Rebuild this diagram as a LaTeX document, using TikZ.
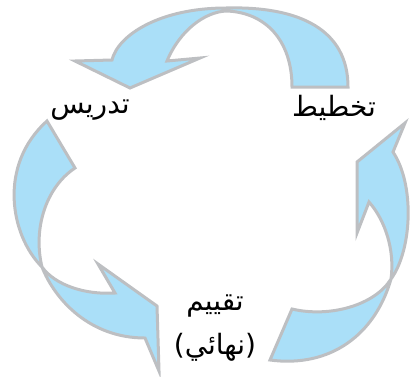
\documentclass[tikz,border=0pt]{standalone}
\usepackage{fontspec}
\newfontfamily\arabicfont[Script=Arabic]{DejaVu Sans}
\TeXXeTstate=1
\definecolor{ribbonfill}{RGB}{170,223,248}
\definecolor{ribbonline}{RGB}{189,191,194}
\tikzset{
  ribbon/.style={fill=ribbonfill, draw=ribbonline, line width=3pt, line join=miter},
  lbl/.style={font=\arabicfont\fontsize{28}{32}\selectfont, inner sep=0pt}
}
\begin{document}
\begin{tikzpicture}[x=1pt,y=-1pt]
\useasboundingbox (0,0) rectangle (411,376);
% top arrow: planning -> teaching
\draw[ribbon] (292,87) -- (348,87)
  .. controls (348,30) and (300,6) .. (226,8)
  .. controls (160,8) and (118,35) .. (112,60)
  -- (75,61) -- (130,88) -- (200,58) -- (167,61)
  .. controls (180,30) and (205,12) .. (226,11)
  .. controls (265,12) and (292,40) .. (292,87) -- cycle;
% left arrow: teaching -> evaluation
\draw[ribbon] (47,121) -- (75,168)
  .. controls (45,188) and (33,230) .. (42,267)
  .. controls (55,300) and (90,338) .. (145,338)
  -- (159,371) -- (157,306) -- (98,264) -- (115,293)
  .. controls (85,295) and (55,285) .. (42,267)
  .. controls (10,235) and (-2,165) .. (47,121) -- cycle;
% right arrow: evaluation -> planning
\draw[ribbon] (270,360) -- (292,309)
  .. controls (330,318) and (375,305) .. (391,279)
  .. controls (412,250) and (415,185) .. (393,152)
  -- (405,123) -- (357,162) -- (357,233) -- (369,202)
  .. controls (385,220) and (395,250) .. (391,279)
  .. controls (375,335) and (330,368) .. (270,360) -- cycle;
% labels
\node[lbl] (plan) at (334,108) {\beginR تخطيط\endR};
\node[lbl] (teach) at (90,110) {\beginR تدريس\endR};
\node[lbl] (eval) at (215,306) {\beginR تقييم\endR};
\node[lbl] (final) at (215,347) {\beginR (نهائي)\endR};
\end{tikzpicture}
\end{document}
